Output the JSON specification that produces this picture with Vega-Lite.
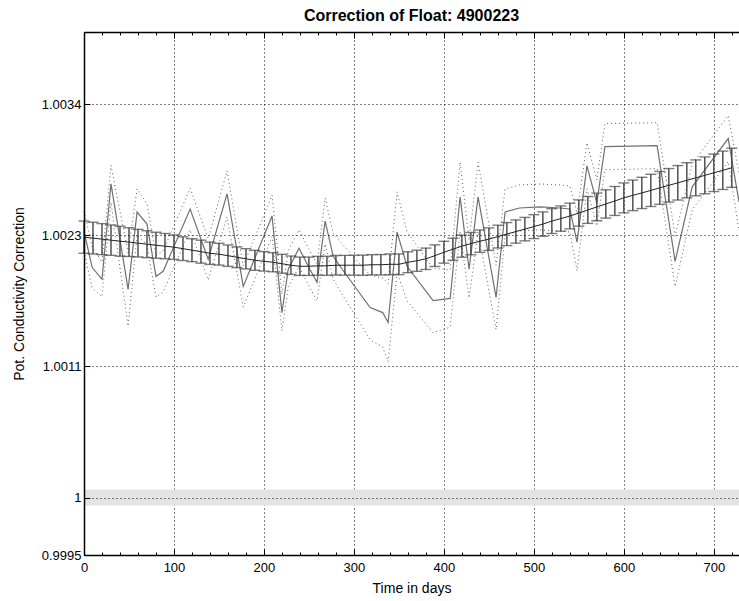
{
  "$schema": "https://vega.github.io/schema/vega-lite/v6.json",
  "width": 655,
  "height": 523,
  "autosize": {"type": "none"},
  "padding": {"left": 84, "top": 32, "right": 0, "bottom": 46},
  "background": "white",
  "config": {
    "view": {"stroke": null},
    "font": "Liberation Sans"
  },
  "title": {"text": "Correction of Float: 4900223", "fontSize": 16, "fontWeight": "bold", "font": "Liberation Sans", "color": "black", "offset": 8, "anchor": "middle"},
  "datasets": {
    "fit": [
      {"d":0,"fit":1.002265,"lo":1.002125,"hi":1.002405},
      {"d":10,"fit":1.002257,"lo":1.002119,"hi":1.002395},
      {"d":20,"fit":1.002248,"lo":1.002113,"hi":1.002383},
      {"d":30,"fit":1.002239,"lo":1.002107,"hi":1.002371},
      {"d":40,"fit":1.002230,"lo":1.002100,"hi":1.002360},
      {"d":50,"fit":1.002222,"lo":1.002097,"hi":1.002347},
      {"d":60,"fit":1.002213,"lo":1.002093,"hi":1.002333},
      {"d":70,"fit":1.002204,"lo":1.002087,"hi":1.002321},
      {"d":80,"fit":1.002195,"lo":1.002082,"hi":1.002308},
      {"d":90,"fit":1.002187,"lo":1.002077,"hi":1.002297},
      {"d":100,"fit":1.002178,"lo":1.002072,"hi":1.002284},
      {"d":110,"fit":1.002165,"lo":1.002062,"hi":1.002268},
      {"d":120,"fit":1.002152,"lo":1.002052,"hi":1.002252},
      {"d":130,"fit":1.002139,"lo":1.002039,"hi":1.002239},
      {"d":140,"fit":1.002125,"lo":1.002028,"hi":1.002222},
      {"d":150,"fit":1.002117,"lo":1.002022,"hi":1.002212},
      {"d":160,"fit":1.002104,"lo":1.002011,"hi":1.002197},
      {"d":170,"fit":1.002090,"lo":1.002000,"hi":1.002180},
      {"d":180,"fit":1.002077,"lo":1.001989,"hi":1.002165},
      {"d":190,"fit":1.002064,"lo":1.001977,"hi":1.002151},
      {"d":200,"fit":1.002055,"lo":1.001970,"hi":1.002140},
      {"d":210,"fit":1.002047,"lo":1.001964,"hi":1.002130},
      {"d":220,"fit":1.002034,"lo":1.001952,"hi":1.002116},
      {"d":230,"fit":1.002021,"lo":1.001941,"hi":1.002101},
      {"d":240,"fit":1.002012,"lo":1.001932,"hi":1.002092},
      {"d":250,"fit":1.002012,"lo":1.001932,"hi":1.002092},
      {"d":260,"fit":1.002016,"lo":1.001934,"hi":1.002098},
      {"d":270,"fit":1.002016,"lo":1.001933,"hi":1.002099},
      {"d":280,"fit":1.002021,"lo":1.001936,"hi":1.002106},
      {"d":290,"fit":1.002021,"lo":1.001935,"hi":1.002107},
      {"d":300,"fit":1.002021,"lo":1.001934,"hi":1.002108},
      {"d":310,"fit":1.002021,"lo":1.001933,"hi":1.002109},
      {"d":320,"fit":1.002025,"lo":1.001937,"hi":1.002113},
      {"d":330,"fit":1.002025,"lo":1.001936,"hi":1.002114},
      {"d":340,"fit":1.002029,"lo":1.001939,"hi":1.002119},
      {"d":350,"fit":1.002029,"lo":1.001939,"hi":1.002119},
      {"d":360,"fit":1.002047,"lo":1.001956,"hi":1.002138},
      {"d":370,"fit":1.002060,"lo":1.001968,"hi":1.002152},
      {"d":380,"fit":1.002077,"lo":1.001984,"hi":1.002170},
      {"d":390,"fit":1.002104,"lo":1.002010,"hi":1.002198},
      {"d":400,"fit":1.002134,"lo":1.002039,"hi":1.002229},
      {"d":410,"fit":1.002160,"lo":1.002064,"hi":1.002256},
      {"d":420,"fit":1.002187,"lo":1.002091,"hi":1.002283},
      {"d":430,"fit":1.002209,"lo":1.002112,"hi":1.002306},
      {"d":440,"fit":1.002230,"lo":1.002133,"hi":1.002327},
      {"d":450,"fit":1.002248,"lo":1.002150,"hi":1.002346},
      {"d":460,"fit":1.002270,"lo":1.002171,"hi":1.002369},
      {"d":470,"fit":1.002292,"lo":1.002192,"hi":1.002392},
      {"d":480,"fit":1.002314,"lo":1.002213,"hi":1.002415},
      {"d":490,"fit":1.002335,"lo":1.002233,"hi":1.002437},
      {"d":500,"fit":1.002357,"lo":1.002253,"hi":1.002461},
      {"d":510,"fit":1.002379,"lo":1.002273,"hi":1.002485},
      {"d":520,"fit":1.002405,"lo":1.002297,"hi":1.002513},
      {"d":530,"fit":1.002427,"lo":1.002317,"hi":1.002537},
      {"d":540,"fit":1.002449,"lo":1.002337,"hi":1.002561},
      {"d":550,"fit":1.002475,"lo":1.002361,"hi":1.002589},
      {"d":560,"fit":1.002502,"lo":1.002385,"hi":1.002619},
      {"d":570,"fit":1.002528,"lo":1.002408,"hi":1.002648},
      {"d":580,"fit":1.002554,"lo":1.002431,"hi":1.002677},
      {"d":590,"fit":1.002580,"lo":1.002454,"hi":1.002706},
      {"d":600,"fit":1.002607,"lo":1.002477,"hi":1.002737},
      {"d":610,"fit":1.002629,"lo":1.002496,"hi":1.002762},
      {"d":620,"fit":1.002650,"lo":1.002514,"hi":1.002786},
      {"d":630,"fit":1.002672,"lo":1.002532,"hi":1.002812},
      {"d":640,"fit":1.002694,"lo":1.002551,"hi":1.002837},
      {"d":650,"fit":1.002716,"lo":1.002570,"hi":1.002862},
      {"d":660,"fit":1.002738,"lo":1.002588,"hi":1.002888},
      {"d":670,"fit":1.002760,"lo":1.002607,"hi":1.002913},
      {"d":680,"fit":1.002781,"lo":1.002625,"hi":1.002937},
      {"d":690,"fit":1.002803,"lo":1.002643,"hi":1.002963},
      {"d":700,"fit":1.002825,"lo":1.002662,"hi":1.002988},
      {"d":710,"fit":1.002847,"lo":1.002680,"hi":1.003014},
      {"d":720,"fit":1.002869,"lo":1.002699,"hi":1.003039}
    ],
    "raw": [
      {"d":0,"v":1.002318,"lo":1.002143,"hi":1.002493},
      {"d":9,"v":1.002003,"lo":1.001823,"hi":1.002183},
      {"d":20,"v":1.001898,"lo":1.001748,"hi":1.002048},
      {"d":30,"v":1.002729,"lo":1.002569,"hi":1.002889},
      {"d":49,"v":1.001811,"lo":1.001491,"hi":1.002131},
      {"d":59,"v":1.002484,"lo":1.002284,"hi":1.002684},
      {"d":70,"v":1.002379,"lo":1.002199,"hi":1.002559},
      {"d":80,"v":1.001924,"lo":1.001744,"hi":1.002104},
      {"d":88,"v":1.001968,"lo":1.001788,"hi":1.002148},
      {"d":118,"v":1.002510,"lo":1.002330,"hi":1.002690},
      {"d":138,"v":1.002073,"lo":1.001893,"hi":1.002253},
      {"d":159,"v":1.002642,"lo":1.002442,"hi":1.002842},
      {"d":177,"v":1.001837,"lo":1.001657,"hi":1.002017},
      {"d":209,"v":1.002449,"lo":1.002269,"hi":1.002629},
      {"d":220,"v":1.001609,"lo":1.001449,"hi":1.001769},
      {"d":227,"v":1.001986,"lo":1.001826,"hi":1.002146},
      {"d":239,"v":1.002169,"lo":1.002009,"hi":1.002329},
      {"d":251,"v":1.001986,"lo":1.001826,"hi":1.002146},
      {"d":259,"v":1.001872,"lo":1.001712,"hi":1.002032},
      {"d":268,"v":1.002405,"lo":1.002205,"hi":1.002605},
      {"d":277,"v":1.002099,"lo":1.001899,"hi":1.002299},
      {"d":287,"v":1.001986,"lo":1.001766,"hi":1.002206},
      {"d":318,"v":1.001653,"lo":1.001373,"hi":1.001933},
      {"d":332,"v":1.001609,"lo":1.001309,"hi":1.001909},
      {"d":338,"v":1.001522,"lo":1.001182,"hi":1.001862},
      {"d":348,"v":1.002309,"lo":1.001959,"hi":1.002659},
      {"d":359,"v":1.002012,"lo":1.001712,"hi":1.002312},
      {"d":388,"v":1.001714,"lo":1.001434,"hi":1.001994},
      {"d":407,"v":1.001732,"lo":1.001482,"hi":1.001982},
      {"d":418,"v":1.002615,"lo":1.002315,"hi":1.002915},
      {"d":428,"v":1.001986,"lo":1.001736,"hi":1.002236},
      {"d":438,"v":1.002615,"lo":1.002315,"hi":1.002915},
      {"d":458,"v":1.001741,"lo":1.001461,"hi":1.002021},
      {"d":468,"v":1.002484,"lo":1.002284,"hi":1.002684},
      {"d":484,"v":1.002519,"lo":1.002319,"hi":1.002719},
      {"d":507,"v":1.002528,"lo":1.002328,"hi":1.002728},
      {"d":529,"v":1.002519,"lo":1.002319,"hi":1.002719},
      {"d":540,"v":1.002510,"lo":1.002310,"hi":1.002710},
      {"d":548,"v":1.002222,"lo":1.001972,"hi":1.002472},
      {"d":559,"v":1.002886,"lo":1.002686,"hi":1.003086},
      {"d":570,"v":1.002563,"lo":1.002363,"hi":1.002763},
      {"d":579,"v":1.003053,"lo":1.002853,"hi":1.003253},
      {"d":637,"v":1.003061,"lo":1.002861,"hi":1.003261},
      {"d":657,"v":1.002055,"lo":1.001835,"hi":1.002275},
      {"d":676,"v":1.002703,"lo":1.002503,"hi":1.002903},
      {"d":716,"v":1.003123,"lo":1.002923,"hi":1.003323},
      {"d":728,"v":1.002572,"lo":1.002322,"hi":1.002822}
    ],
    "band": [{"lo":0.99993,"hi":1.00007}]
  },
  "resolve": {"axis": {"x": "independent"}},
  "layer": [
    {
      "data": {"name": "band"},
      "mark": {"type": "rect", "color": "#e3e3e3"},
      "encoding": {
        "x": {"datum": 0, "type": "quantitative", "scale": {"domain": [0, 728], "nice": false, "zero": false},
          "axis": {
            "orient": "bottom",
            "values": [0,20,40,60,80,100,120,140,160,180,200,220,240,260,280,300,320,340,360,380,400,420,440,460,480,500,520,540,560,580,600,620,640,660,680,700,720],
            "labelExpr": "datum.value % 100 === 0 ? datum.label : ''",
            "tickSize": {"condition": {"test": "datum.value % 100 === 0", "value": -6}, "value": -3},
            "tickColor": "black", "tickWidth": 1,
            "domainColor": "black", "domainWidth": 1.5,
            "grid": true,
            "gridColor": "black",
            "gridDash": [1, 3],
            "gridOpacity": {"condition": {"test": "datum.value % 100 === 0", "value": 1}, "value": 0},
            "labelFont": "Liberation Sans", "labelFontSize": 13, "labelColor": "black", "labelPadding": 12,
            "labelFlush": false,
            "title": "Time in days", "titleFont": "Liberation Sans", "titleFontSize": 14, "titleFontWeight": "normal", "titleColor": "black", "titlePadding": 7
          }
        },
        "x2": {"datum": 728},
        "y": {"field": "lo", "type": "quantitative",
          "scale": {"domain": [0.9995, 1.00405], "nice": false, "zero": false},
          "axis": {
            "values": [0.9995, 1, 1.00114, 1.00228, 1.00342],
            "format": ".5~r",
            "zindex": 1,
            "tickSize": -6, "tickColor": "black",
            "domainColor": "black", "domainWidth": 1.5,
            "grid": true, "gridColor": "black", "gridDash": [1, 3],
            "labelFont": "Liberation Sans", "labelFontSize": 13, "labelColor": "black", "labelPadding": 9,
            "labelFlush": false,
            "title": "Pot. Conductivity Correction", "titleFont": "Liberation Sans", "titleFontSize": 14, "titleFontWeight": "normal", "titleColor": "black", "titlePadding": 15
          }
        },
        "y2": {"field": "hi"}
      }
    },
    {
      "data": {"name": "raw"},
      "mark": {"type": "line", "color": "#606060", "strokeWidth": 1, "strokeDash": [1, 3]},
      "encoding": {
        "x": {"field": "d", "type": "quantitative",
          "axis": {
            "orient": "top",
            "values": [0,20,40,60,80,100,120,140,160,180,200,220,240,260,280,300,320,340,360,380,400,420,440,460,480,500,520,540,560,580,600,620,640,660,680,700,720],
            "labels": false,
            "tickSize": {"condition": {"test": "datum.value % 100 === 0", "value": -6}, "value": -3},
            "tickColor": "black",
            "domainColor": "black", "domainWidth": 1.5,
            "grid": false,
            "title": null
          }
        },
        "y": {"field": "hi", "type": "quantitative"}
      }
    },
    {
      "data": {"name": "raw"},
      "mark": {"type": "line", "color": "#606060", "strokeWidth": 1, "strokeDash": [1, 3]},
      "encoding": {
        "x": {"field": "d", "type": "quantitative", "axis": null},
        "y": {"field": "lo", "type": "quantitative"}
      }
    },
    {
      "data": {"name": "raw"},
      "mark": {"type": "line", "color": "#707070", "strokeWidth": 1.2},
      "encoding": {
        "x": {"field": "d", "type": "quantitative", "axis": null},
        "y": {"field": "v", "type": "quantitative"}
      }
    },
    {
      "data": {"name": "fit"},
      "mark": {"type": "rule", "color": "#444444", "strokeWidth": 1.4},
      "encoding": {
        "x": {"field": "d", "type": "quantitative", "axis": null},
        "y": {"field": "lo", "type": "quantitative"},
        "y2": {"field": "hi"}
      }
    },
    {
      "data": {"name": "fit"},
      "mark": {"type": "tick", "orient": "horizontal", "color": "#444444", "size": 11, "thickness": 1.4},
      "encoding": {
        "x": {"field": "d", "type": "quantitative", "axis": null},
        "y": {"field": "lo", "type": "quantitative"}
      }
    },
    {
      "data": {"name": "fit"},
      "mark": {"type": "tick", "orient": "horizontal", "color": "#444444", "size": 11, "thickness": 1.4},
      "encoding": {
        "x": {"field": "d", "type": "quantitative", "axis": null},
        "y": {"field": "hi", "type": "quantitative"}
      }
    },
    {
      "data": {"name": "fit"},
      "mark": {"type": "line", "color": "#222222", "strokeWidth": 1},
      "encoding": {
        "x": {"field": "d", "type": "quantitative", "axis": null},
        "y": {"field": "fit", "type": "quantitative"}
      }
    }
  ]
}
